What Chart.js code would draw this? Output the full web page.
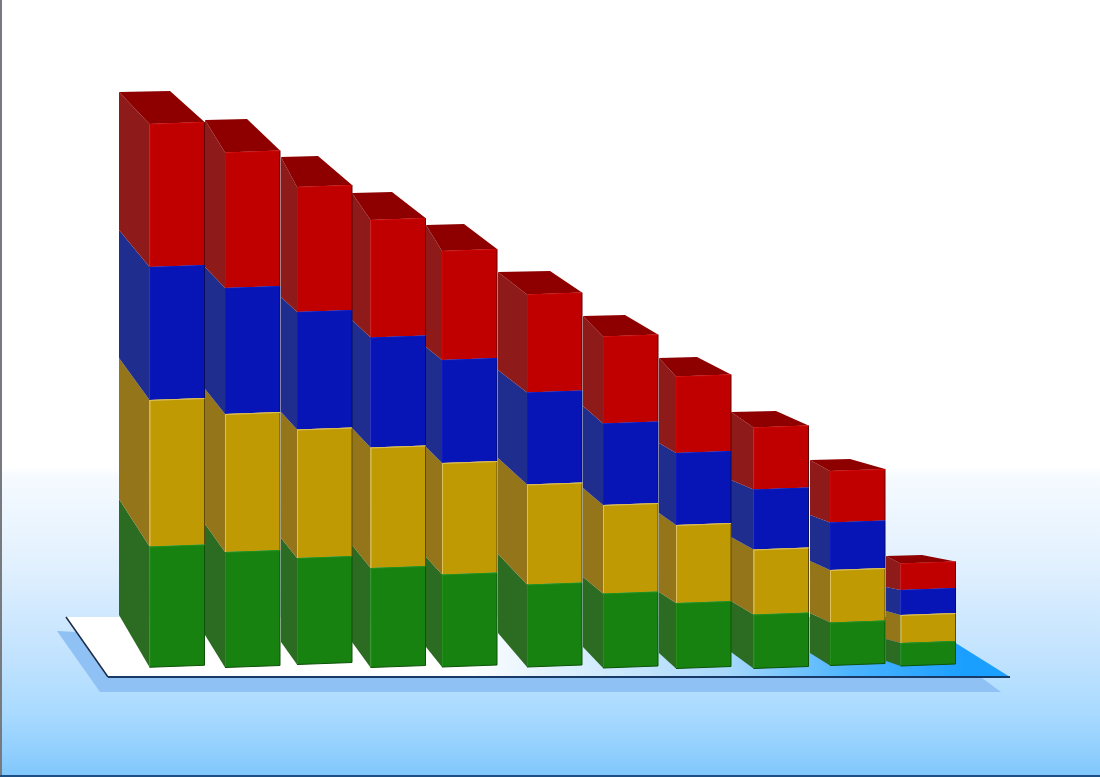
<!DOCTYPE html>
<html>
<head>
<meta charset="utf-8">
<style>html,body{margin:0;padding:0;background:#fff}canvas{display:block}</style>
<script src="https://cdn.jsdelivr.net/npm/chart.js@4/dist/chart.umd.min.js"></script>
</head>
<body>
<canvas id="c" width="1100" height="777"></canvas>
<script>
// Category positions on the horizontal scale (no text labels in the picture)
const barCentres = [177,252.5,324.5,398,469.5,554.5,630.5,703.5,781,857.5,928];
// Front-face values
const floorLift = [110.75,110.5,113.5,110.5,111,111,110,109.5,109.5,112.5,112];
const green = [120.75,115.5,106.5,99.5,92.5,82.5,74.5,65.5,54,43,23];
const gold  = [146.5,138,128.5,120.5,111.5,100,88.5,78,65,52.5,28];
const blue  = [133,126,117.5,110,103,92,81.5,72,60,47.5,25];
const red   = [143,135.5,125,117.5,109,98,87,76.5,62,51.5,26.5];
// Rear edge of each column, read on the same scales
const rearLeft  = [119,205,281,352,426,498,583,659,731,810,886];
const rearRight = [170,247,318,392,464,550,625,697,776,850,922];
const rearFloor = [162,142,135,135,130,144,130,124,125,124,116];
const rearGreen = [278,253,239,232,220,223,200,185,176,164,138];
const rearGold  = [419,388,365,349,330,319,289,264,240,216,166];
const rearBlue  = [547,510,480,457,430,407,371,334,297,262,190];
const rearRed   = [685,657,620,584,552,505,461,419,365,317,221];
const rearLevels = [rearFloor,rearGreen,rearGold,rearBlue,rearRed];
// Base plate on the same scales
const plateX = [66,914,1010,108];
const plateY = [160,160,100,100];
const shadowX = [57,982,1001,100];
const shadowY = [146,99,85,85];

const frontColours = ['#17820f','#c09a02','#0714b6','#c00000'];
const sideColours  = ['#2b6b22','#94751a','#1f2d8f','#8f1a1a'];
const liteColours  = ['#23901a','#dcc05a','#0d1abd','#cc0505'];
const darkColours  = ['#0c5208','#5e4a04','#050c60','#5e0000'];
const topColour = '#8e0000';
const tilt = 1;

function poly(ctx, pts, fill){
  ctx.beginPath();
  pts.forEach((p,i)=> i ? ctx.lineTo(p[0],p[1]) : ctx.moveTo(p[0],p[1]));
  ctx.closePath();
  ctx.fillStyle = fill;
  ctx.fill();
}
function seg(ctx,a,b,col,w){
  ctx.beginPath();ctx.moveTo(a[0],a[1]);ctx.lineTo(b[0],b[1]);
  ctx.strokeStyle=col;ctx.lineWidth=w;ctx.stroke();
}

const scene = {
  id:'scene',
  beforeDraw(chart){
    const {ctx,width,height,scales:{x,y}} = chart;
    const g = ctx.createLinearGradient(0,0,0,height);
    [[0,'#ffffff'],[0.6,'#ffffff'],[0.615,'#f5faff'],[0.72,'#e3f1fe'],[0.85,'#c0e2fe'],[0.92,'#a8daff'],[1,'#80c7fc']]
      .forEach(s=>g.addColorStop(s[0],s[1]));
    ctx.fillStyle=g;ctx.fillRect(0,0,width,height);
    const P=(xs,ys)=>xs.map((v,i)=>[x.getPixelForValue(v),y.getPixelForValue(ys[i])]);
    poly(ctx,P(shadowX,shadowY),'#8fc1f5');
    const pl=P(plateX,plateY);
    const pg=ctx.createLinearGradient(66,0,1010,0);
    [[0,'#ffffff'],[0.42,'#ffffff'],[0.7,'#a8d8fb'],[0.83,'#4cb4ff'],[0.95,'#1b9fff'],[1,'#1b9fff']]
      .forEach(s=>pg.addColorStop(s[0],s[1]));
    poly(ctx,pl,pg);
    seg(ctx,pl[0],pl[3],'#1c2c48',1.5);
    seg(ctx,pl[3],pl[2],'#173a66',2);
    // frame edges of the picture
    ctx.fillStyle='#777b80';ctx.fillRect(0,0,2,height);
    ctx.fillStyle='#1d4f84';ctx.fillRect(0,height-2,width,2);
  },
  beforeDatasetsDraw(chart){
    const {ctx,scales:{x,y}} = chart;
    for(let s=1;s<=4;s++){
      const i=s-1;
      chart.getDatasetMeta(s).data.forEach((el,k)=>{
        const l=el.x-el.width/2;
        const rx=x.getPixelForValue(rearLeft[k]);
        poly(ctx,[[rx,y.getPixelForValue(rearLevels[i][k])],[l,el.base+tilt],[l,el.y+tilt],[rx,y.getPixelForValue(rearLevels[i+1][k])]],sideColours[i]);
      });
    }
    chart.getDatasetMeta(4).data.forEach((el,k)=>{
      const l=el.x-el.width/2,r=el.x+el.width/2;
      const ry=y.getPixelForValue(rearRed[k]);
      poly(ctx,[[x.getPixelForValue(rearLeft[k]),ry],[x.getPixelForValue(rearRight[k]),ry-1],[r,el.y-tilt],[l,el.y+tilt]],topColour);
    });
  },
  beforeDatasetDraw(chart,args){
    const s=args.index;
    if(s===0) return false;
    const i=s-1,ctx=chart.ctx;
    args.meta.data.forEach(el=>{
      const l=el.x-el.width/2,r=el.x+el.width/2;
      poly(ctx,[[l,el.y+tilt],[r,el.y-tilt],[r,el.base-tilt],[l,el.base+tilt]],frontColours[i]);
      seg(ctx,[l+0.5,el.y+tilt],[l+0.5,el.base+tilt],liteColours[i],1);
      seg(ctx,[r,el.y-tilt],[r,el.base-tilt],darkColours[i],1);
      seg(ctx,[l,el.y+tilt+0.5],[r,el.y-tilt+0.5],liteColours[i],1);
      if(i===0) seg(ctx,[l,el.base+tilt],[r,el.base-tilt],darkColours[i],1.2);
    });
    return false;
  }
};

const toPts = arr => arr.map((v,i)=>({x:barCentres[i],y:v}));
new Chart(document.getElementById('c'),{
  type:'bar',
  data:{datasets:[
    {label:'floor',data:toPts(floorLift),backgroundColor:'transparent'},
    {label:'Green',data:toPts(green),backgroundColor:frontColours[0]},
    {label:'Gold',data:toPts(gold),backgroundColor:frontColours[1]},
    {label:'Blue',data:toPts(blue),backgroundColor:frontColours[2]},
    {label:'Red',data:toPts(red),backgroundColor:frontColours[3]}
  ]},
  options:{
    responsive:false,animation:false,
    layout:{padding:0},
    barThickness:55,
    plugins:{legend:{display:false},tooltip:{enabled:false},title:{display:false}},
    scales:{
      x:{type:'linear',min:0,max:1100,stacked:true,display:false,offset:false},
      y:{type:'linear',min:0,max:777,stacked:true,display:false}
    }
  },
  plugins:[scene]
});
</script>
</body>
</html>
